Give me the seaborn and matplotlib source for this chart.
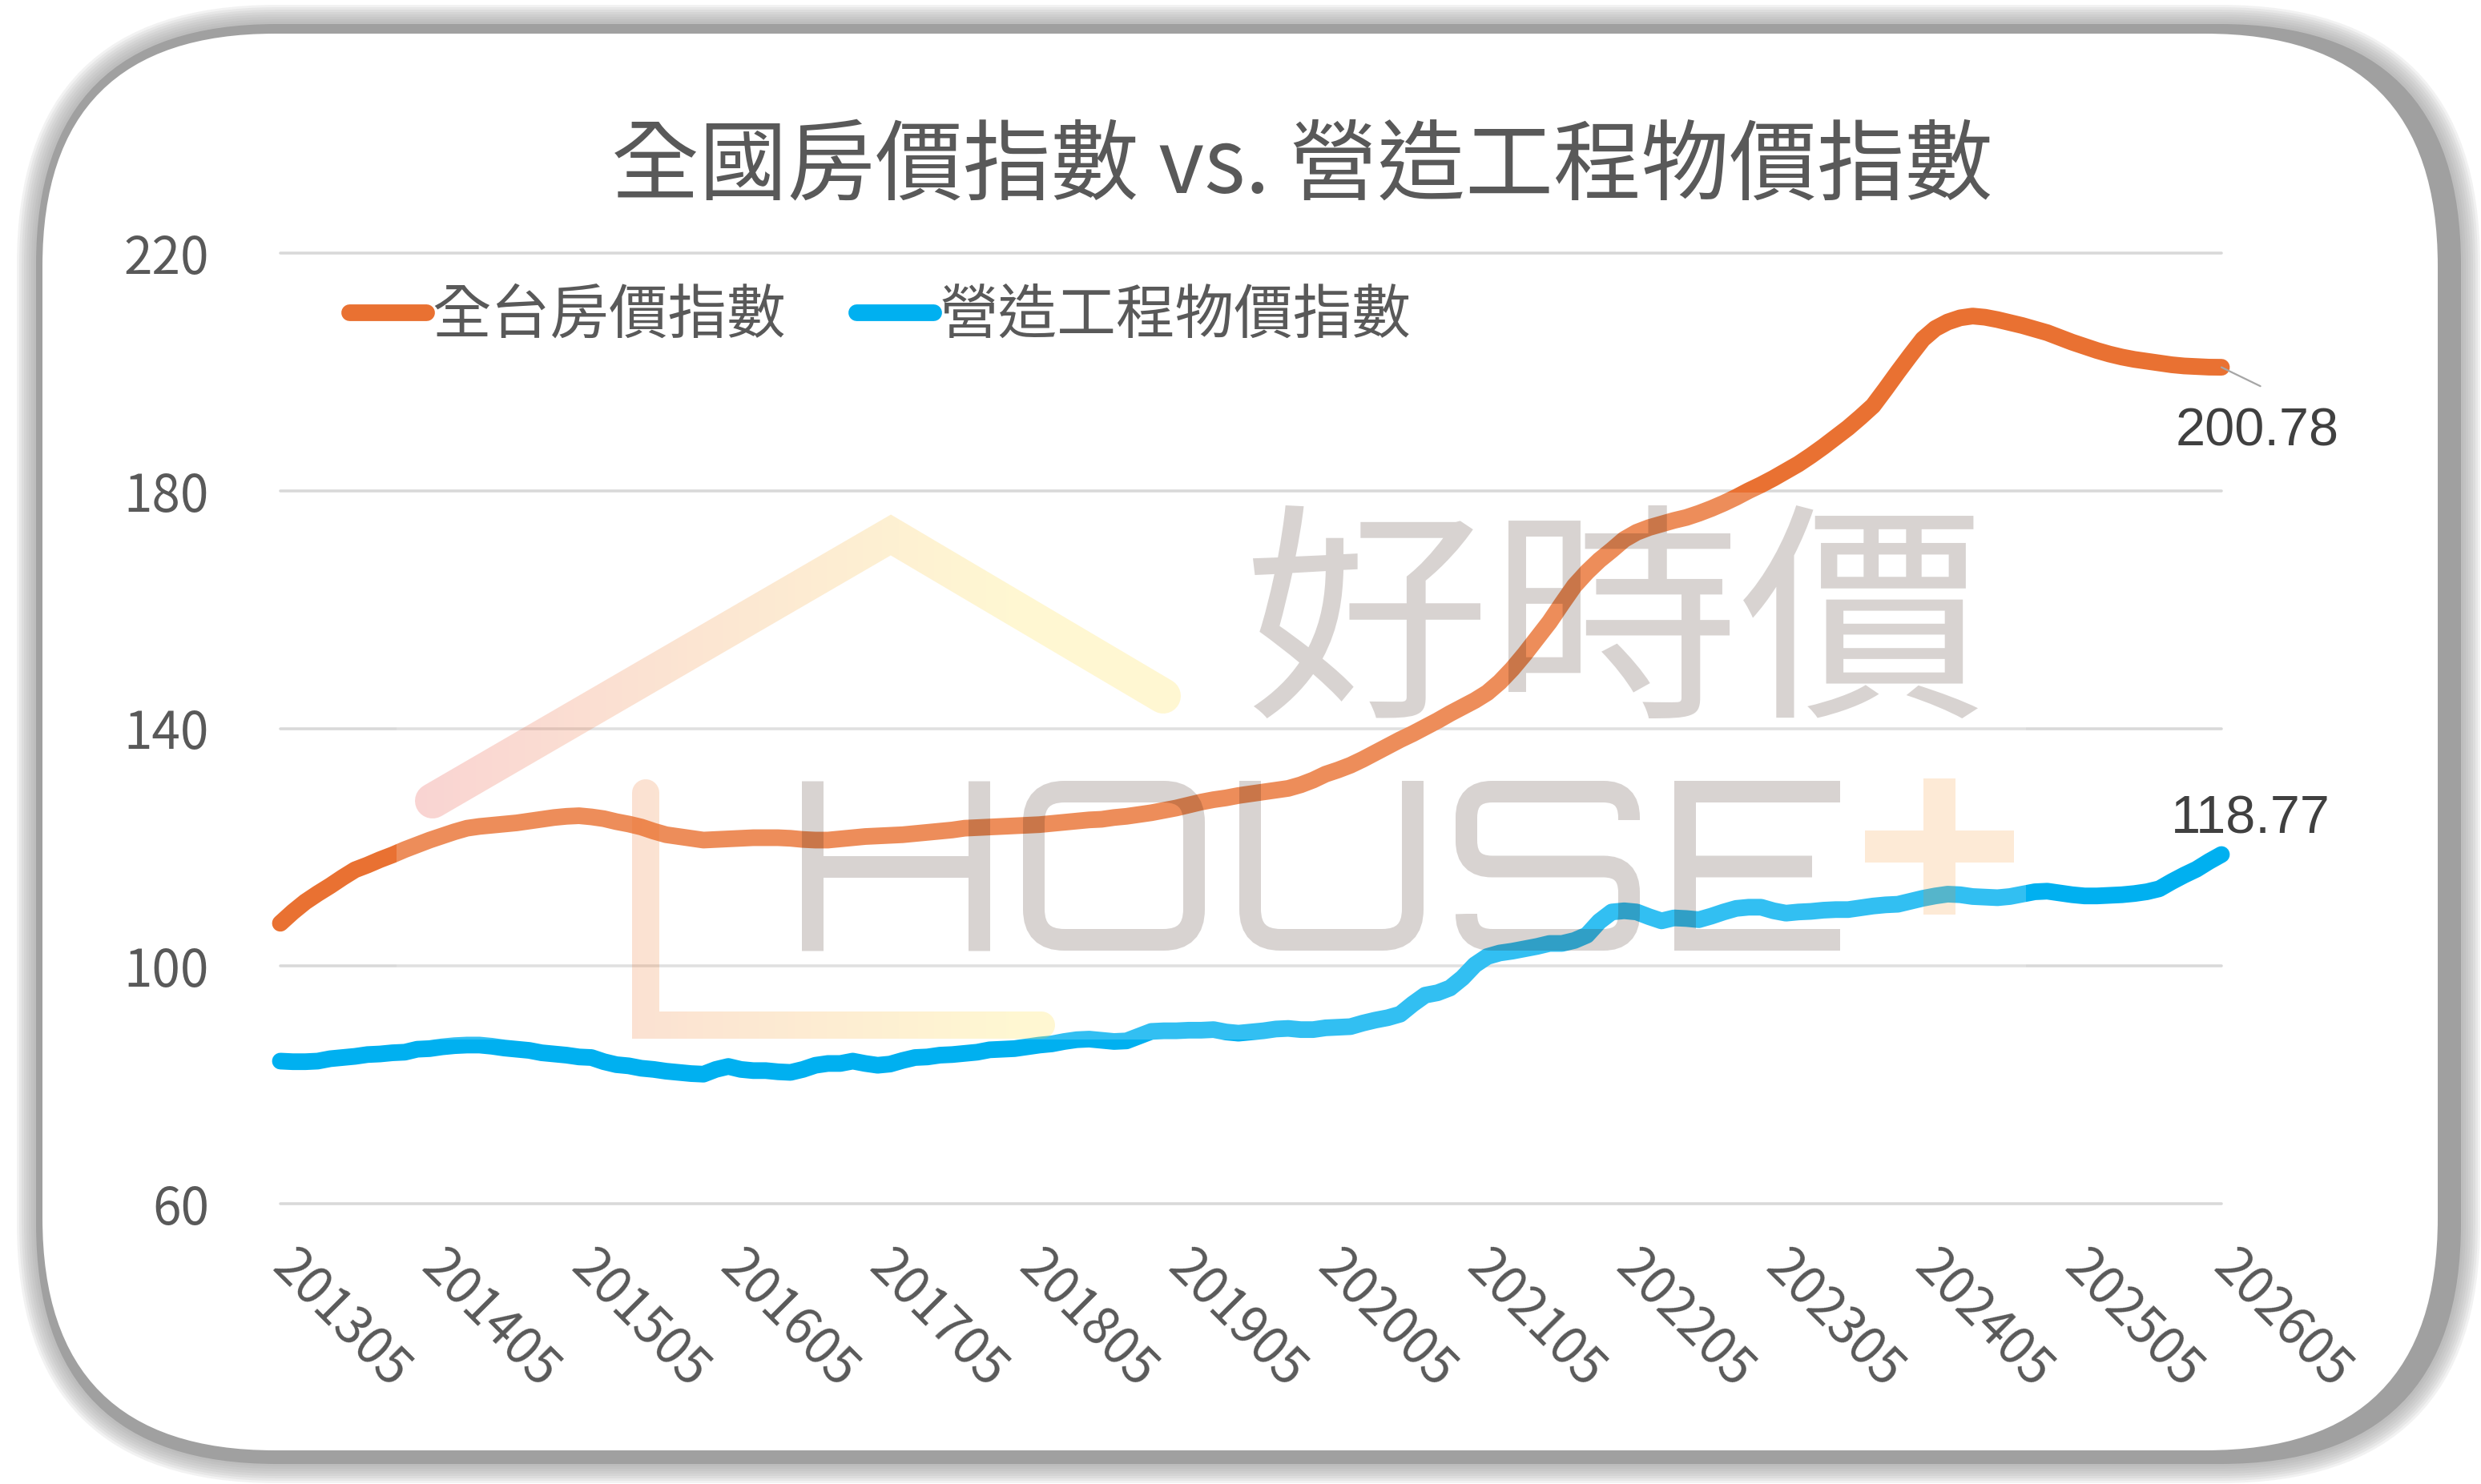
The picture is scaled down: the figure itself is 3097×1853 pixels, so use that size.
import numpy as np
import pandas as pd
import seaborn as sns
import matplotlib
matplotlib.use('Agg')
import matplotlib.pyplot as plt
from matplotlib.patches import FancyBboxPatch, Rectangle, PathPatch, Polygon
from matplotlib.path import Path
from matplotlib.textpath import TextPath
from matplotlib.font_manager import FontProperties
from matplotlib.transforms import IdentityTransform, Affine2D
from matplotlib.colors import LinearSegmentedColormap
from matplotlib.lines import Line2D

# ---- data (monthly, 201305 .. 202605) ----
first_month = '2013-05'
house_index = [
    107.2, 109.1, 110.8, 112.2, 113.5, 114.9, 116.2, 117.0, 117.9, 118.7, 119.6, 120.4,
    121.2, 121.9, 122.6, 123.2, 123.5, 123.7, 123.9, 124.1, 124.4, 124.7, 125.0, 125.2,
    125.3, 125.1, 124.8, 124.3, 123.9, 123.4, 122.7, 122.1, 121.8, 121.5, 121.2, 121.3,
    121.4, 121.5, 121.6, 121.6, 121.6, 121.5, 121.3, 121.2, 121.2, 121.4, 121.6, 121.8,
    121.9, 122.0, 122.1, 122.3, 122.5, 122.7, 122.9, 123.2, 123.3, 123.4, 123.5, 123.6,
    123.7, 123.8, 124.0, 124.2, 124.4, 124.6, 124.7, 125.0, 125.2, 125.5, 125.8, 126.2,
    126.6, 127.1, 127.6, 128.0, 128.3, 128.7, 129.0, 129.3, 129.6, 129.9, 130.5, 131.3,
    132.3, 133.0, 133.8, 134.8, 135.9, 137.0, 138.1, 139.1, 140.2, 141.3, 142.5, 143.6,
    144.7, 146.0, 147.8, 150.0, 152.5, 155.2, 157.9, 161.0, 164.0, 166.3, 168.3, 170.0,
    171.8, 173.0, 173.8, 174.4, 175.0, 175.5, 176.2, 177.0, 177.9, 178.9, 180.0, 181.0,
    182.1, 183.3, 184.5, 185.9, 187.4, 189.0, 190.6, 192.4, 194.3, 197.1, 200.0, 202.8,
    205.5, 207.3, 208.4, 209.1, 209.4, 209.2, 208.8, 208.3, 207.8, 207.2, 206.6, 205.8,
    205.0, 204.3, 203.6, 203.0, 202.5, 202.1, 201.8, 201.5, 201.2, 201.0, 200.9, 200.8,
    200.78,
]
build_index = [
    84.0, 83.9, 83.9, 84.0, 84.4, 84.6, 84.8, 85.1, 85.2, 85.4, 85.5, 86.0,
    86.1, 86.4, 86.6, 86.7, 86.7, 86.5, 86.2, 86.0, 85.8, 85.4, 85.2, 85.0,
    84.7, 84.6, 83.9, 83.4, 83.2, 82.8, 82.6, 82.3, 82.1, 81.9, 81.8, 82.6,
    83.1, 82.6, 82.4, 82.4, 82.2, 82.1, 82.6, 83.3, 83.6, 83.6, 84.0, 83.6,
    83.3, 83.5, 84.1, 84.6, 84.7, 85.0, 85.1, 85.3, 85.5, 85.9, 86.0, 86.1,
    86.4, 86.7, 86.9, 87.3, 87.6, 87.7, 87.5, 87.3, 87.4, 88.2, 89.0, 89.1,
    89.1, 89.2, 89.2, 89.3, 88.9, 88.7, 88.9, 89.1, 89.4, 89.5, 89.3, 89.3,
    89.6, 89.7, 89.8, 90.4, 90.9, 91.3, 91.9, 93.6, 95.1, 95.5, 96.3, 98.0,
    100.2, 101.6, 102.2, 102.5, 102.9, 103.3, 103.8, 103.8, 104.3, 105.2, 107.5, 109.1,
    109.3, 109.1, 108.3, 107.6, 108.1, 108.0, 107.8, 108.4, 109.1, 109.7, 109.9, 109.9,
    109.3, 108.9, 109.1, 109.2, 109.4, 109.5, 109.5, 109.8, 110.1, 110.3, 110.4, 110.9,
    111.4, 111.8, 112.1, 112.0, 111.7, 111.6, 111.5, 111.7, 112.1, 112.5, 112.6, 112.3,
    112.0, 111.8, 111.8, 111.9, 112.0, 112.2, 112.5, 113.0, 114.2, 115.3, 116.3, 117.6,
    118.77,
]
series_names = ['全台房價指數', '營造工程物價指數']
series_colors = ['#E97132', '#00B0F0']
chart_title = '全國房價指數 vs. 營造工程物價指數'
y_ticks = [60, 100, 140, 180, 220]
tick_step = 12

W, H = 3097, 1853
sns.set_style('white')
plt.rcParams['font.family'] = ['Noto Sans CJK TC', 'DejaVu Sans']

months = pd.period_range(first_month, periods=len(house_index), freq='M').strftime('%Y%m')
n = len(months)
df = pd.DataFrame({
    't': np.tile(np.arange(n), 2),
    'value': house_index + build_index,
    'series': np.repeat(series_names, n),
})

fig = plt.figure(figsize=(W / 100, H / 100), dpi=100)
fig.patch.set_facecolor('white')
px = IdentityTransform()


def rbox(x0, y0, x1, y1, r, **kw):
    # rounded box in image pixels, y measured from the top
    return FancyBboxPatch((x0, H - y1), x1 - x0, y1 - y0,
                          boxstyle=f'round,pad=0,rounding_size={r}',
                          transform=px, **kw)


# card with soft grey shadow
for k in range(8, 0, -1):
    e = 3 * k
    fig.add_artist(rbox(45 - e, 30 - e, 3072 + e, 1828 + e, 300 + e,
                        fc='#a0a0a0', ec='none', alpha=0.13, zorder=-30))
fig.add_artist(rbox(45, 30, 3072, 1828, 300, fc='#a0a0a0', ec='none', zorder=-20))
fig.add_artist(rbox(53, 42, 3043, 1811, 290, fc='white', ec='none', zorder=-10))

# ---- chart ----
ax = fig.add_axes([350 / W, 1 - 1503 / H, (2773 - 350) / W, (1503 - 316) / H])
ax.patch.set_visible(False)
sns.lineplot(data=df, x='t', y='value', hue='series',
             palette=dict(zip(series_names, series_colors)),
             linewidth=15, legend=False, ax=ax)
for ln in ax.lines:
    ln.set_solid_capstyle('round')
    ln.set_solid_joinstyle('round')
    ln.set_clip_on(False)

ax.set_xlim(0, n - 1)
ax.set_ylim(60, 220)
ax.set_yticks(y_ticks)
ax.set_xticks(range(0, n, tick_step))
ax.set_xticklabels(months[::tick_step], rotation=-45, ha='left', va='center',
                   rotation_mode='anchor')
ax.tick_params(axis='both', length=0, labelsize=46, labelcolor='#595959')
ax.tick_params(axis='y', pad=64)
ax.tick_params(axis='x', pad=50)
ax.grid(axis='y', color='#d9d9d9', lw=2.6)
ax.grid(axis='x', visible=False)
for gl in ax.get_ygridlines():
    gl.set_clip_on(False)
sns.despine(ax=ax, left=True, bottom=True)
ax.set_xlabel('')
ax.set_ylabel('')

handles = [Line2D([], [], color=c, lw=15, solid_capstyle='round') for c in series_colors]
leg = ax.legend(handles, series_names, loc='center left',
                bbox_to_anchor=(436 / W, 1 - 395 / H), bbox_transform=fig.transFigure,
                ncol=2, frameon=False, fontsize=53, handlelength=1.3,
                handletextpad=0.1, columnspacing=1.2, borderpad=0, borderaxespad=0)
for t in leg.get_texts():
    t.set_color('#595959')

fig.text(1625 / W, 1 - 209 / H, chart_title, ha='center', va='center',
         fontsize=79, color='#595959')

# end labels
ax.annotate('', xy=(n - 1, house_index[-1]), xytext=(35, -17), textcoords='offset points',
            arrowprops=dict(arrowstyle='-', color='#a6a6a6', lw=1.6, shrinkA=0, shrinkB=0))
ax.annotate(f'{house_index[-1]:.2f}', xy=(n - 1, house_index[-1]), xytext=(32, -58),
            textcoords='offset points', ha='center', va='center', fontsize=48,
            color='#404040', family='Liberation Sans')
ax.annotate(f'{build_index[-1]:.2f}', xy=(n - 1, build_index[-1]), xytext=(26, 31),
            textcoords='offset points', ha='center', va='center', fontsize=48,
            color='#404040', family='Liberation Sans')

# ---- watermark (好時價 HOUSE+) ----
fig.add_artist(Rectangle((495, H - 1298), 2529 - 495, 1298 - 615, transform=px,
                         fc='white', ec='none', alpha=0.2, zorder=5))


def stroke_poly(pts, w, narc=16):
    pts = np.array([(x, H - y) for x, y in pts], float)
    hw = w / 2
    d = np.diff(pts, axis=0)
    d /= np.linalg.norm(d, axis=1)[:, None]
    nrm = np.stack([-d[:, 1], d[:, 0]], axis=1)
    left = [pts[0] + nrm[0] * hw]
    right = [pts[0] - nrm[0] * hw]
    for i in range(1, len(pts) - 1):
        m = nrm[i - 1] + nrm[i]
        m /= np.linalg.norm(m)
        L = hw / np.dot(m, nrm[i])
        left.append(pts[i] + m * L)
        right.append(pts[i] - m * L)
    left.append(pts[-1] + nrm[-1] * hw)
    right.append(pts[-1] - nrm[-1] * hw)
    a_end = np.arctan2(d[-1, 1], d[-1, 0])
    a_start = np.arctan2(d[0, 1], d[0, 0])
    end_arc = [pts[-1] + hw * np.array([np.cos(a), np.sin(a)])
               for a in np.linspace(a_end + np.pi / 2, a_end - np.pi / 2, narc)]
    start_arc = [pts[0] + hw * np.array([np.cos(a), np.sin(a)])
                 for a in np.linspace(a_start - np.pi / 2, a_start - 1.5 * np.pi, narc)]
    return np.array(left + end_arc + right[::-1] + start_arc)


roof = stroke_poly([(540, 1000), (1112, 668), (1452, 869)], 44)
wall = stroke_poly([(806, 990), (806, 1280), (1300, 1280)], 34)
house_path = Path.make_compound_path(Path(roof, closed=False), Path(wall, closed=False))

gx0, gy0, gx1, gy1 = 480, 600, 1520, 1330
wm_cmap = LinearSegmentedColormap.from_list(
    'wm', [(0, '#e32121'), (0.35, '#f07a21'), (0.75, '#ffd821'), (1, '#ffd821')])
grad = np.empty((gy1 - gy0, gx1 - gx0, 4))
grad[:] = wm_cmap(np.linspace(0, 1, gx1 - gx0))[None, :, :]
grad[..., 3] = 0.2
im = fig.figimage(grad, xo=gx0, yo=H - gy1, origin='upper', zorder=6)
im.set_clip_path(PathPatch(house_path, transform=px))

wm_grey = '#280f00'


def rounded_stroke(pts, r, closed=False):
    # polyline (pixels from top) with rounded corners of radius r
    pts = [np.array((x, H - y), float) for x, y in pts]
    verts, codes = [pts[0]], [Path.MOVETO]
    for i in range(1, len(pts) - 1):
        a, b, c = pts[i - 1], pts[i], pts[i + 1]
        din = (b - a) / np.linalg.norm(b - a)
        dout = (c - b) / np.linalg.norm(c - b)
        verts += [b - din * r, b, b + dout * r]
        codes += [Path.LINETO, Path.CURVE3, Path.CURVE3]
    verts.append(pts[-1])
    codes.append(Path.LINETO)
    if closed:
        verts.append(pts[0])
        codes.append(Path.CLOSEPOLY)
    return Path(verts, codes)


def draw_letter(strokes, w=27):
    path = Path.make_compound_path(*strokes)
    fig.add_artist(PathPatch(path, transform=px, fill=False, ec=wm_grey, lw=w * 0.72,
                             alpha=0.18, capstyle='butt', joinstyle='miter', zorder=7))


yt, yb, ym = 988.5, 1173.5, 1082
draw_letter([rounded_stroke([(1013.5, 975), (1013.5, 1187)], 0),
             rounded_stroke([(1221.5, 975), (1221.5, 1187)], 0),
             rounded_stroke([(1013.5, ym), (1221.5, ym)], 0)])
draw_letter([rounded_stroke([(1390, yt), (1490.5, yt), (1490.5, yb), (1290.5, yb),
                             (1290.5, yt), (1390, yt)], 38)])
draw_letter([rounded_stroke([(1560.5, 975), (1560.5, yb), (1763.5, yb), (1763.5, 975)], 38)])
draw_letter([rounded_stroke([(2033.5, 1024), (2033.5, yt), (1830.5, yt), (1830.5, ym),
                             (2033.5, ym), (2033.5, yb), (1830.5, yb), (1830.5, 1142)], 32)])
draw_letter([rounded_stroke([(2297, yt), (2103.5, yt), (2103.5, yb), (2297, yb)], 0),
             rounded_stroke([(2103.5, ym), (2262, ym)], 0)])


def fit_text(s, box, family, color, alpha):
    x0, y0, x1, y1 = box
    tp = TextPath((0, 0), s, size=100, prop=FontProperties(family=family))
    ext = tp.get_extents()
    tr = (Affine2D().translate(-ext.x0, -ext.y0)
          .scale((x1 - x0) / ext.width, (y1 - y0) / ext.height)
          .translate(x0, H - y1))
    fig.add_artist(PathPatch(tr.transform_path(tp), transform=px, fc=color,
                             ec='none', alpha=alpha, zorder=7))


for ch, box in zip('好時價', [(1564, 631, 1848, 897), (1883, 631, 2160, 897),
                            (2176, 631, 2469, 897)]):
    fit_text(ch, box, 'Noto Sans CJK TC', wm_grey, 0.18)

cx, cy, hx, hy, t = 2421, 1057, 93, 85, 20
plus = [(cx - t, cy - hy), (cx + t, cy - hy), (cx + t, cy - t), (cx + hx, cy - t),
        (cx + hx, cy + t), (cx + t, cy + t), (cx + t, cy + hy), (cx - t, cy + hy),
        (cx - t, cy + t), (cx - hx, cy + t), (cx - hx, cy - t), (cx - t, cy - t)]
fig.add_artist(Polygon([(x, H - y) for x, y in plus], closed=True, transform=px,
                       fc='#f58c1e', ec='none', alpha=0.18, zorder=7))

fig.savefig('out.png', dpi=100, facecolor='white')
